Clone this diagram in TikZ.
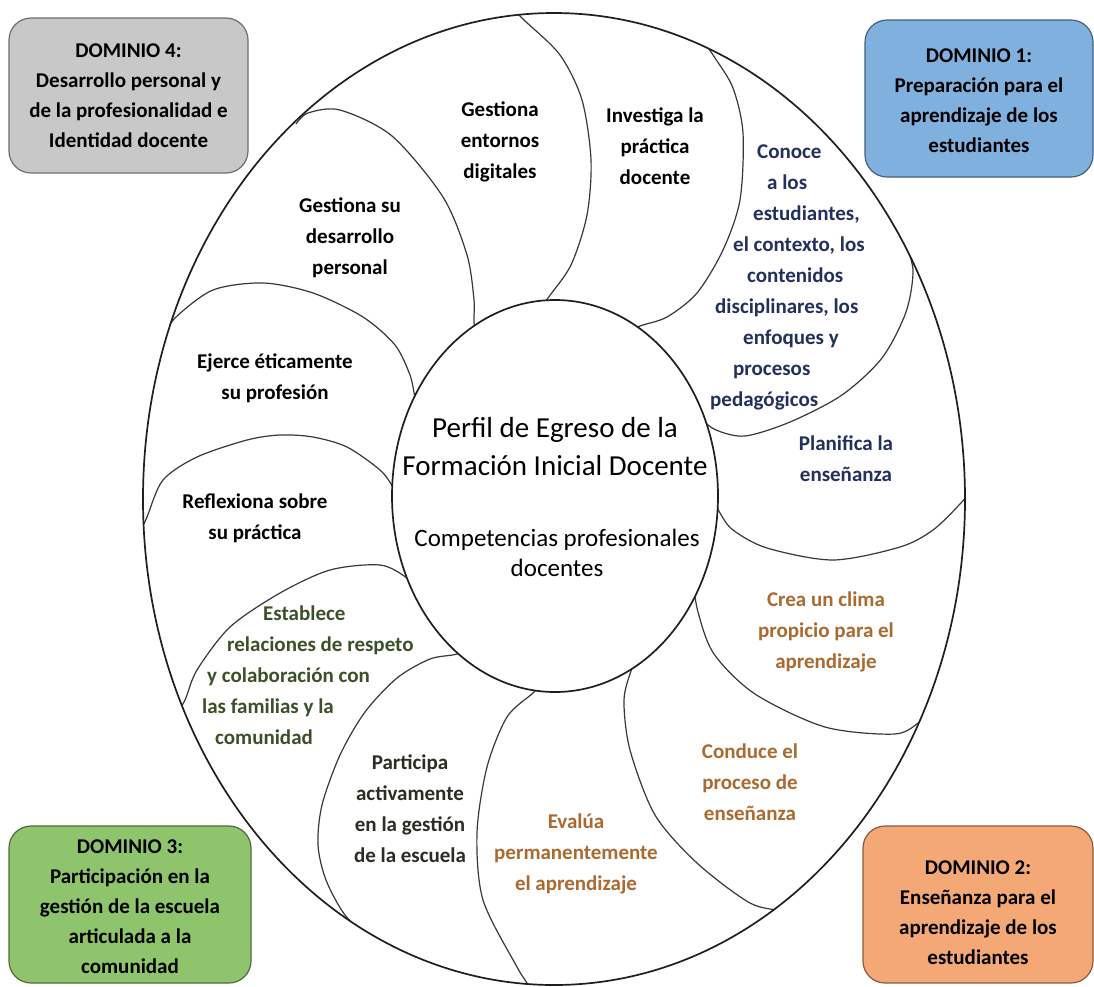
\documentclass[tikz,border=0pt]{standalone}
\usepackage{fontspec}
\setmainfont{Carlito}
\begin{document}
\begin{tikzpicture}[x=1pt,y=-1pt,
  pline/.style={line width=1.2pt,draw=black!78},
  ringline/.style={line width=1.7pt,draw=black!88},
  petal/.style={font=\bfseries\fontsize{21}{31}\selectfont,align=center,inner sep=0pt},
  dombox/.style={draw=#1!55!black,fill=#1,line width=1.2pt,rounded corners=22pt,
    align=center,inner sep=0pt,font=\bfseries\fontsize{21}{30}\selectfont}]
 \definecolor{domgray}{HTML}{C8C8C8}
 \definecolor{domblue}{HTML}{80B0DE}
 \definecolor{domgreen}{HTML}{8EC46C}
 \definecolor{domorange}{HTML}{F4A876}
 \definecolor{txtnavy}{HTML}{22305E}
 \definecolor{txtbrown}{HTML}{AA6A30}
 \definecolor{txtgreen}{HTML}{3C5028}
 \definecolor{txtdark}{HTML}{2A2E22}
 \useasboundingbox [fill=white] (0,0) rectangle (1094,986);
 \begin{scope}
  \clip (554,499) ellipse [x radius=411, y radius=486];
  \draw [pline] plot [smooth] coordinates {(296,124) (308,113) (340,110) (392,136) (443,197) (467,255) (474,300) (474,322) (478,340)};
  \draw [pline] plot [smooth] coordinates {(511,7) (524,20) (560,55) (582,100) (591,160) (587,215) (571,265) (548,298) (535,318)};
  \draw [pline] plot [smooth] coordinates {(704,42) (715,58) (733,88) (743,133) (740,200) (723,250) (697,293) (667,317) (640,326) (620,336)};
  \draw [pline] plot [smooth] coordinates {(904,240) (913,270) (906,312) (882,358) (842,395) (790,422) (745,436) (716,430) (700,418)};
  \draw [pline] plot [smooth] coordinates {(975,486) (960,504) (933,530) (900,547) (833,560) (767,548) (733,530) (720,513) (712,496)};
  \draw [pline] plot [smooth] coordinates {(937,710) (921,721) (895,734) (825,727) (755,694) (714,654) (698,612) (692,575)};
  \draw [pline] plot [smooth] coordinates {(805,915) (785,911) (750,903) (697,863) (655,815) (630,750) (624,700) (632,668) (640,650)};
  \draw [pline] plot [smooth] coordinates {(530,996) (527,983) (517,967) (483,900) (477,833) (487,767) (507,717) (533,693) (548,678)};
  \draw [pline] plot [smooth] coordinates {(392,962) (375,945) (345,915) (326,880) (318,845) (322,805) (340,755) (365,712) (397,678) (430,659) (457,654) (470,645)};
  \draw [pline] plot [smooth] coordinates {(174,718) (185,700) (197,670) (230,627) (280,593) (330,570) (380,565) (407,578) (425,596)};
  \draw [pline] plot [smooth] coordinates {(139,535) (147,517) (163,480) (197,457) (247,440) (280,435) (313,437) (347,447) (380,470) (393,487) (402,503)};
  \draw [pline] plot [smooth] coordinates {(163,338) (175,318) (213,290) (263,283) (313,293) (363,317) (395,345) (410,375) (415,397) (421,412)};
 \end{scope}
 \draw [ringline,fill=white] (555,496) ellipse [x radius=163, y radius=196];
 \draw [ringline] (554,499) ellipse [x radius=411, y radius=486];
 \node [align=center,font=\fontsize{29}{38}\selectfont] (perf) at (555,447) {Perfil de Egreso de la\\Formación Inicial Docente};
 \node [align=center,font=\fontsize{25}{30}\selectfont] (comp) at (557,553) {Competencias profesionales\\docentes};
 \node [petal] (ent) at (500,142) {Gestiona\\entornos\\digitales};
 \node [petal] (inv) at (655,146) {Investiga la\\práctica\\docente};
 \node [petal,text=txtnavy,align=left,anchor=west] (con) at (710,277) {\hspace*{47pt}Conoce\\ \hspace*{57pt}a los\\ \hspace*{43pt}estudiantes,\\ \hspace*{23pt}el contexto, los\\ \hspace*{37pt}contenidos\\ \hspace*{5pt}disciplinares, los\\ \hspace*{33pt}enfoques y\\ \hspace*{23pt}procesos\\pedagógicos};
 \node [petal,text=txtnavy] (pla) at (846,459) {Planifica la\\enseñanza};
 \node [petal,text=txtbrown] (cre) at (826,632) {Crea un clima\\propicio para el\\aprendizaje};
 \node [petal,text=txtbrown] (cond) at (750,782) {Conduce el\\proceso de\\enseñanza};
 \node [petal,text=txtbrown] (eva) at (576,854) {Evalúa\\permanentemente\\el aprendizaje};
 \node [petal,text=txtdark] (par) at (410,809) {Participa\\activamente\\en la gestión\\de la escuela};
 \node [petal,text=txtgreen,align=left,anchor=west] (est) at (202,675) {\hspace*{61pt}Establece\\ \hspace*{25pt}relaciones de respeto\\ \hspace*{5pt}y colaboración con\\las familias y la\\ \hspace*{13pt}comunidad};
 \node [petal] (ref) at (255,518) {Reflexiona sobre\\su práctica};
 \node [petal] (eje) at (275,378) {Ejerce éticamente\\su profesión};
 \node [petal] (ges) at (350,238) {Gestiona su\\desarrollo\\personal};
 \node [dombox=domgray,minimum width=239pt,minimum height=155pt] (d4) at (128.5,95.5) {DOMINIO 4:\\Desarrollo personal y\\de la profesionalidad e\\Identidad docente};
 \node [dombox=domblue,minimum width=228pt,minimum height=157pt] (d1) at (979,98.5) {\rule{0pt}{18pt}DOMINIO 1:\\Preparación para el\\aprendizaje de los\\estudiantes};
 \node [dombox=domgreen,minimum width=242pt,minimum height=157pt] (d3) at (130,904.5) {\rule{0pt}{18pt}DOMINIO 3:\\Participación en la\\gestión de la escuela\\articulada a la\\comunidad};
 \node [dombox=domorange,minimum width=230pt,minimum height=157pt] (d2) at (978,904.5) {\rule{0pt}{30pt}DOMINIO 2:\\Enseñanza para el\\aprendizaje de los\\estudiantes};
\end{tikzpicture}
\end{document}
